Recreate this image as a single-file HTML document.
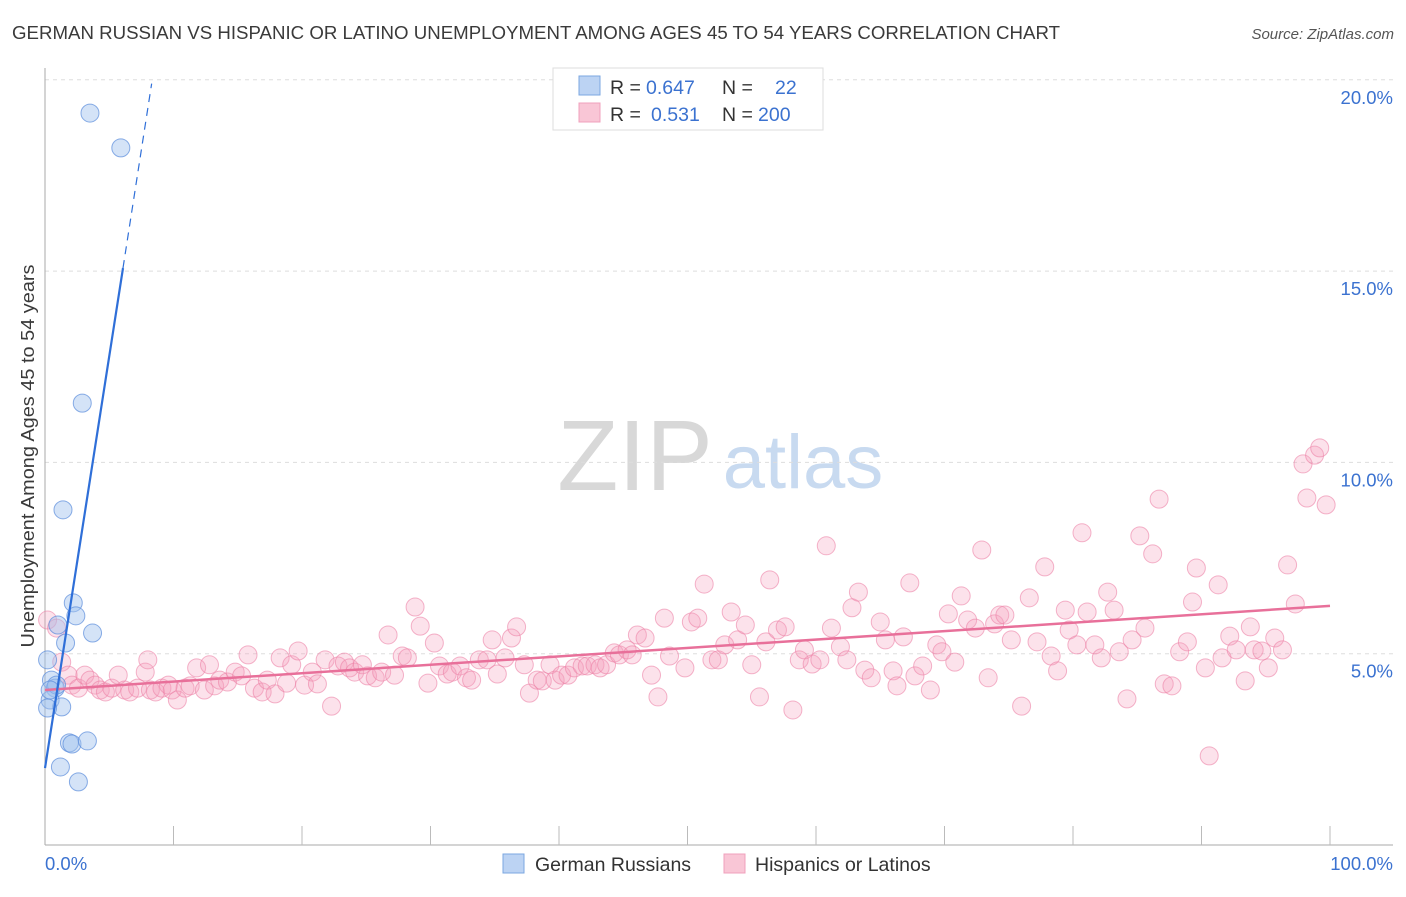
<!DOCTYPE html>
<html><head><meta charset="utf-8"><style>
body{margin:0;background:#fff;font-family:"Liberation Sans",sans-serif}
svg text{font-family:"Liberation Sans",sans-serif}
</style></head><body>
<svg id="chart" width="1406" height="892" viewBox="0 0 1406 892" xmlns="http://www.w3.org/2000/svg">
<text x="12" y="39" font-size="18.5" fill="#3a3a3a" textLength="1048" lengthAdjust="spacingAndGlyphs">GERMAN RUSSIAN VS HISPANIC OR LATINO UNEMPLOYMENT AMONG AGES 45 TO 54 YEARS CORRELATION CHART</text>
<text x="1394" y="39" font-size="15" fill="#555" font-style="italic" text-anchor="end">Source: ZipAtlas.com</text>
<text transform="translate(34,456) rotate(-90)" font-size="18.5" fill="#3a3a3a" text-anchor="middle" textLength="383" lengthAdjust="spacingAndGlyphs">Unemployment Among Ages 45 to 54 years</text>
<g>
<text x="635" y="490" font-size="100" font-family="Liberation Serif,serif" fill="#d8d8d8" text-anchor="middle">ZIP</text>
<text x="803" y="488" font-size="76" fill="#c8daf0" text-anchor="middle">atlas</text>
</g>
<g id="grid"></g><g id="axes"></g><g id="pink"></g><g id="blue"></g><g id="lines"></g>
<g>
<rect x="553" y="68" width="270" height="62" fill="#fff" stroke="#ddd"/>
<rect x="579" y="76" width="21" height="19" fill="#bcd3f3" stroke="#7ba7e0"/>
<rect x="579" y="103" width="21" height="19" fill="#f9c6d6" stroke="#f0a0bc"/>
<text x="610" y="94" font-size="19.5" fill="#333">R = <tspan fill="#3b72d0" x="646">0.647</tspan></text>
<text x="722" y="94" font-size="19.5" fill="#333">N = <tspan fill="#3b72d0" x="775">22</tspan></text>
<text x="610" y="121" font-size="19.5" fill="#333">R = <tspan fill="#3b72d0" x="651">0.531</tspan></text>
<text x="722" y="121" font-size="19.5" fill="#333">N = <tspan fill="#3b72d0" x="758">200</tspan></text>
</g>
<g>
<rect x="503" y="854" width="21" height="19" fill="#bcd3f3" stroke="#7ba7e0"/>
<text x="535" y="871" font-size="19.5" fill="#333">German Russians</text>
<rect x="724" y="854" width="21" height="19" fill="#f9c6d6" stroke="#f0a0bc"/>
<text x="755" y="871" font-size="19.5" fill="#333">Hispanics or Latinos</text>
</g>
</svg>
<script>
const yTicks=[5,10,15,20];
const yTickLabels=["5.0%","10.0%","15.0%","20.0%"];
const blueX=[3.5,5.9,2.9,1.4,2.2,2.4,3.7,1.6,1.0,0.2,0.5,0.8,0.4,1.3,0.2,1.9,2.1,3.3,1.2,2.6,0.9,0.4];
const blueY=[19.13,18.22,11.55,8.76,6.33,5.99,5.54,5.28,5.75,4.84,4.31,4.10,3.79,3.61,3.58,2.67,2.64,2.72,2.04,1.65,4.18,4.05];
const pinkX=[0.2,0.9,1.3,1.8,2.1,2.6,3.1,3.5,3.9,4.3,4.7,5.2,5.7,6.2,6.6,7.2,7.8,8.2,8.6,9.1,9.6,9.9,10.3,10.9,11.3,11.8,12.4,12.8,13.2,13.6,14.2,14.8,15.3,15.8,16.3,16.9,17.3,17.9,18.3,18.8,19.2,19.7,20.2,20.8,21.2,21.8,22.3,22.8,23.3,23.7,24.1,24.7,25.1,25.7,26.2,26.7,27.2,27.8,28.2,28.8,29.2,29.8,30.3,30.7,31.3,31.7,32.3,32.8,33.2,33.8,34.4,34.8,35.2,35.8,36.3,36.7,37.3,37.7,38.3,38.7,39.3,39.7,40.2,40.7,41.2,41.8,42.2,42.8,43.2,43.7,44.3,44.7,45.3,45.7,46.1,46.7,47.2,47.7,48.2,48.6,49.8,50.3,50.8,51.3,51.9,52.4,52.9,53.4,53.9,54.5,55.0,55.6,56.1,56.4,57.0,57.6,58.2,58.7,59.1,59.7,60.3,60.8,61.2,61.9,62.4,62.8,63.3,63.8,64.3,65.0,65.4,66.0,66.3,66.8,67.3,67.7,68.3,68.9,69.4,69.8,70.3,70.8,71.3,71.8,72.4,72.9,73.4,73.9,74.3,74.7,75.2,76.0,76.6,77.2,77.8,78.3,78.8,79.4,79.7,80.3,80.7,81.1,81.7,82.2,82.7,83.2,83.6,84.2,84.6,85.2,85.6,86.2,86.7,87.1,87.7,88.3,88.9,89.3,89.6,90.3,90.6,91.3,91.6,92.2,92.7,93.4,93.8,94.1,94.7,95.2,95.7,96.3,96.7,97.3,97.9,98.2,98.8,99.2,99.7,8.0];
const pinkY=[5.88,5.67,4.78,4.44,4.18,4.10,4.44,4.31,4.18,4.05,4.00,4.10,4.44,4.05,4.00,4.10,4.52,4.05,4.00,4.10,4.18,4.05,3.79,4.10,4.16,4.63,4.05,4.71,4.16,4.31,4.26,4.52,4.42,4.97,4.10,4.00,4.31,3.95,4.89,4.23,4.71,5.07,4.18,4.52,4.21,4.84,3.63,4.68,4.78,4.63,4.52,4.71,4.42,4.37,4.52,5.49,4.44,4.94,4.89,6.22,5.72,4.23,5.28,4.68,4.47,4.52,4.68,4.37,4.31,4.84,4.84,5.36,4.47,4.89,5.41,5.70,4.71,3.97,4.31,4.29,4.71,4.31,4.44,4.44,4.63,4.68,4.68,4.71,4.63,4.71,5.02,4.97,5.10,4.97,5.49,5.41,4.44,3.87,5.93,4.94,4.63,5.83,5.93,6.82,4.84,4.84,5.23,6.09,5.36,5.75,4.71,3.87,5.31,6.93,5.62,5.70,3.53,4.84,5.10,4.73,4.84,7.82,5.67,5.18,4.84,6.20,6.61,4.57,4.37,5.83,5.36,4.55,4.16,5.44,6.85,4.42,4.68,4.05,5.23,5.05,6.04,4.78,6.51,5.88,5.67,7.71,4.37,5.78,6.01,6.01,5.36,3.63,6.46,5.31,7.27,4.94,4.55,6.14,5.62,5.23,8.16,6.09,5.23,4.89,6.61,6.14,5.05,3.82,5.36,8.08,5.67,7.61,9.04,4.21,4.16,5.05,5.31,6.35,7.24,4.63,2.33,6.80,4.89,5.46,5.10,4.29,5.70,5.10,5.07,4.63,5.41,5.10,7.32,6.30,9.96,9.07,10.19,10.38,8.89,4.84];
const blueTrend=[0,2.01,6.07,15.08,8.3,19.9];
const pinkTrend=[0,4.05,100,6.25];
const NS="http://www.w3.org/2000/svg";
const X0=45,X1=1330,Y0=845,PPY=38.26;
const sx=v=>X0+(X1-X0)*v/100;
const sy=v=>Y0-v*PPY;
function mk(t,a,p){const e=document.createElementNS(NS,t);for(const k in a)e.setAttribute(k,a[k]);document.getElementById(p).appendChild(e);return e;}
yTicks.forEach((t,i)=>{
 const l=mk('line',{x1:X0,x2:1393,y1:sy(t),y2:sy(t),stroke:'#ddd','stroke-dasharray':'4,4'},'grid');
 
 
 const tx=mk('text',{x:1393,y:sy(t)+24,'font-size':18.5,fill:'#3b72d0','text-anchor':'end'},'grid');
 tx.textContent=yTickLabels[i];
 
 
});
const ya=mk('line',{x1:X0,x2:X0,y1:68,y2:Y0,stroke:'#aaa'},'axes');


const xa=mk('line',{x1:X0,x2:1393,y1:Y0,y2:Y0,stroke:'#aaa'},'axes');


for(let i=1;i<=10;i++){const t=mk('line',{x1:sx(i*10),x2:sx(i*10),y1:826,y2:Y0,stroke:'#bbb'},'axes');
 
 }
const xl0=mk('text',{x:45,y:870,'font-size':18.5,fill:'#3b72d0'},'axes');xl0.textContent='0.0%';


const xl1=mk('text',{x:1393,y:870,'font-size':18.5,fill:'#3b72d0','text-anchor':'end'},'axes');xl1.textContent='100.0%';


pinkX.forEach((x,i)=>{const c=mk('circle',{cx:sx(x),cy:sy(pinkY[i]),r:9,fill:'rgba(244,160,190,0.3)',stroke:'rgba(236,130,166,0.6)'},'pink');
 
 });
blueX.forEach((x,i)=>{const c=mk('circle',{cx:sx(x),cy:sy(blueY[i]),r:9,fill:'rgba(160,192,238,0.45)',stroke:'rgba(90,140,220,0.7)'},'blue');
 
 });
const pl=mk('line',{x1:sx(pinkTrend[0]),y1:sy(pinkTrend[1]),x2:sx(pinkTrend[2]),y2:sy(pinkTrend[3]),stroke:'#e8709a','stroke-width':2.5},'lines');


const bl=mk('line',{x1:sx(blueTrend[0]),y1:sy(blueTrend[1]),x2:sx(blueTrend[2]),y2:sy(blueTrend[3]),stroke:'#2f6fd8','stroke-width':2.2},'lines');


const bd=mk('line',{x1:sx(blueTrend[2]),y1:sy(blueTrend[3]),x2:sx(blueTrend[4]),y2:sy(blueTrend[5]),stroke:'#2f6fd8','stroke-width':1.2,'stroke-dasharray':'8,6'},'lines');


</script>
</body></html>
